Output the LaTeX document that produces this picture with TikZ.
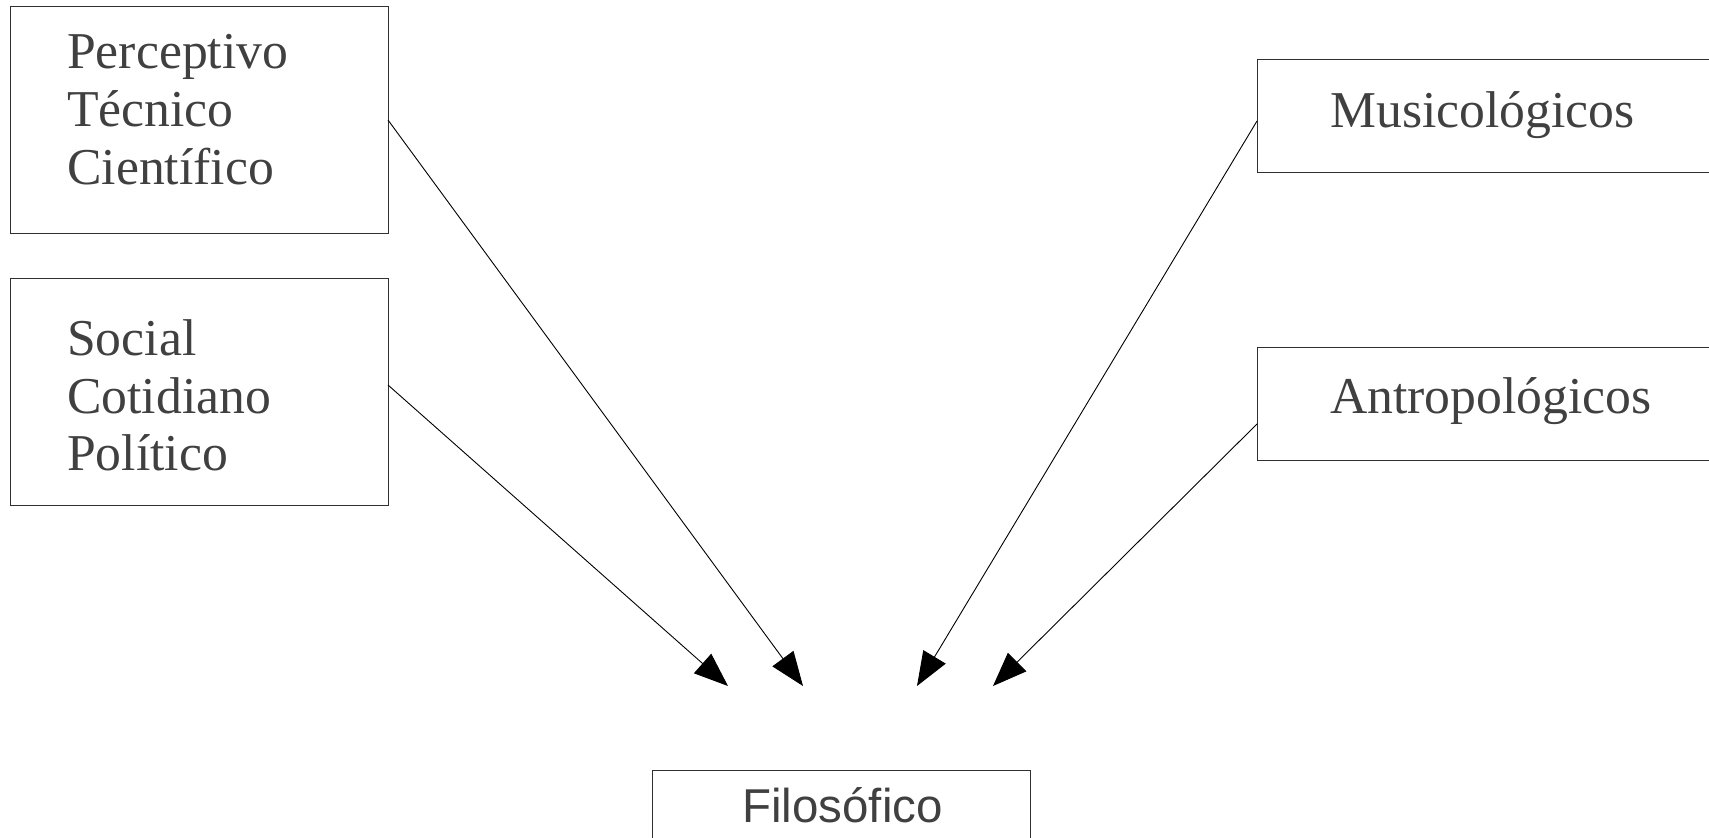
\documentclass[tikz,border=0pt]{standalone}
\usepackage{fontspec}
\setmainfont{Liberation Serif}
\newfontfamily\arialf{Liberation Sans}
\usetikzlibrary{arrows.meta}
\definecolor{txt}{HTML}{404040}
\definecolor{frame}{HTML}{303030}
\begin{document}
\begin{tikzpicture}[x=1pt,y=-1pt,
  box/.style={draw=frame,line width=1pt,anchor=north west,inner sep=0pt,outer sep=0pt},
  lbl/.style={anchor=base west,inner sep=0pt,text=txt,font=\fontsize{51.7}{58}\selectfont},
  slbl/.style={anchor=base west,inner sep=0pt,text=txt,font=\arialf\fontsize{47.5}{54}\selectfont},
  conn/.style={draw=black,line width=0.9pt,-{Triangle[length=34pt,width=26pt]}}]
\useasboundingbox (0,0) rectangle (1709,838);
\clip (0,0) rectangle (1709,838);
% boxes
\node[box,minimum width=378pt,minimum height=227pt] (b1) at (10,6) {};
\node[box,minimum width=378pt,minimum height=227pt] (b2) at (10,278) {};
\node[box,minimum width=500pt,minimum height=113pt] (b3) at (1257,59) {};
\node[box,minimum width=500pt,minimum height=113pt] (b4) at (1257,347) {};
\node[box,minimum width=378pt,minimum height=120pt] (b5) at (652,770) {};
% texts
\node[lbl] (t1) at (67,68) {Perceptivo};
\node[lbl] (t2) at (67,126) {Técnico};
\node[lbl] (t3) at (67,184) {Científico};
\node[lbl] (t4) at (67,355) {Social};
\node[lbl] (t5) at (67,413) {Cotidiano};
\node[lbl] (t6) at (67,470) {Político};
\node[lbl] (t7) at (1330,127) {Musicológicos};
\node[lbl] (t8) at (1330,413) {Antropológicos};
\node[slbl] (t9) at (742,822) {Filosófico};
% arrow end points
\coordinate (e1) at (803,686);
\coordinate (e2) at (728,686);
\coordinate (e3) at (917,686);
\coordinate (e4) at (993,686);
\coordinate (s1) at (b1.east |- 0,120);
\coordinate (s2) at (b2.east |- 0,385);
\coordinate (s3) at (b3.west |- 0,121);
\coordinate (s4) at (b4.west |- 0,424);
\draw[conn] (s1) -- (e1);
\draw[conn] (s2) -- (e2);
\draw[conn] (s3) -- (e3);
\draw[conn] (s4) -- (e4);
\end{tikzpicture}
\end{document}
